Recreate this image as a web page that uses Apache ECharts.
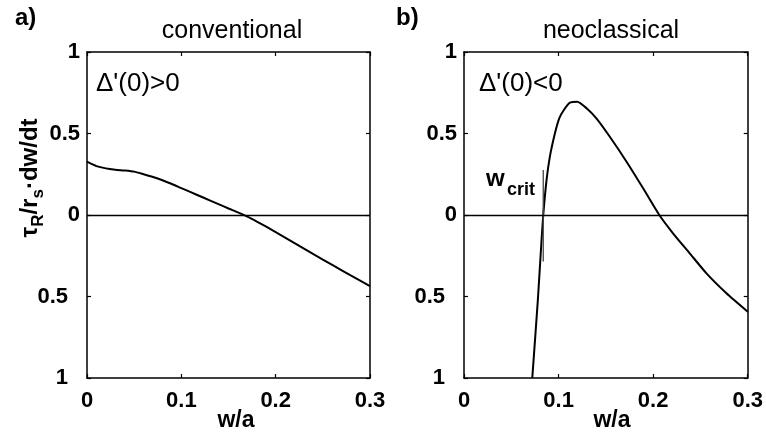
<!DOCTYPE html>
<html>
<head>
<meta charset="utf-8">
<script src="https://cdn.jsdelivr.net/npm/echarts@6/dist/echarts.min.js"></script>
<style>
  html, body { margin: 0; padding: 0; background: #fff; }
  #grafica { width: 766px; height: 434px; }
</style>
</head>
<body>
<div id="grafica"></div>
<script>
// ejes (w/a y tasa normalizada)
const xTicks = [0, 0.1, 0.2, 0.3];
const yTicks = [-1, -0.5, 0, 0.5, 1];

// panel a) conventional
const convW = [0, 0.01, 0.02, 0.03, 0.04, 0.05, 0.06, 0.07, 0.08, 0.09, 0.1, 0.11, 0.12, 0.13, 0.14, 0.15, 0.16, 0.17, 0.18, 0.19, 0.2, 0.22, 0.24, 0.26, 0.28, 0.3];
const convRate = [0.327, 0.3, 0.286, 0.278, 0.273, 0.266, 0.25, 0.233, 0.213, 0.19, 0.165, 0.14, 0.115, 0.09, 0.065, 0.04, 0.016, -0.01, -0.04, -0.072, -0.105, -0.172, -0.24, -0.306, -0.372, -0.437];

// panel b) neoclassical
const neoW = [0.0722, 0.0781, 0.082, 0.0838, 0.0873, 0.0908, 0.0961, 0.1007, 0.1056, 0.112, 0.1197, 0.1296, 0.14, 0.1542, 0.1719, 0.1894, 0.2065, 0.221, 0.2387, 0.2564, 0.2775, 0.3];
const neoRate = [-1, -0.52, -0.153, 0, 0.215, 0.358, 0.5, 0.593, 0.644, 0.689, 0.695, 0.655, 0.593, 0.48, 0.327, 0.164, 0, -0.112, -0.235, -0.358, -0.48, -0.593];

// marca de w_crit
const wCrit = 0.0838;
const wCritSpan = [0.276, -0.286];

const fuente = 'Liberation Sans, Arial, Helvetica, sans-serif';

function pares(xs, ys) {
    return xs.map((x, i) => [x, ys[i]]);
}

function ejeX(grid, abajo) {
    return {
        type: 'value',
        gridIndex: grid,
        position: abajo ? 'bottom' : 'top',
        min: xTicks[0],
        max: xTicks[xTicks.length - 1],
        interval: xTicks[1] - xTicks[0],
        axisLine: { show: true, onZero: false, lineStyle: { color: '#000', width: 1.5 } },
        axisTick: { show: true, inside: true, length: 4, lineStyle: { color: '#000', width: 1.2 } },
        axisLabel: {
            show: abajo,
            margin: 12,
            color: '#000',
            fontFamily: fuente,
            fontSize: 22,
            fontWeight: 'bold',
            formatter: v => String(+v.toFixed(2))
        },
        splitLine: { show: false }
    };
}

function ejeY(grid, izq) {
    return {
        type: 'value',
        gridIndex: grid,
        position: izq ? 'left' : 'right',
        min: yTicks[0],
        max: yTicks[yTicks.length - 1],
        interval: yTicks[1] - yTicks[0],
        axisLine: { show: true, onZero: false, lineStyle: { color: '#000', width: 1.5 } },
        axisTick: { show: true, inside: true, length: 4, lineStyle: { color: '#000', width: 1.2 } },
        axisLabel: {
            show: izq,
            margin: 7,
            color: '#000',
            fontFamily: fuente,
            fontSize: 22,
            fontWeight: 'bold',
            // el signo menos no aparece en la figura original
            formatter: v => v < 0 ? '{n|' + Math.abs(+v.toFixed(2)) + '}' : String(+v.toFixed(2)),
            rich: {
                n: { padding: [0, 12, 0, 0], fontFamily: fuente, fontSize: 22, fontWeight: 'bold', color: '#000' }
            }
        },
        splitLine: { show: false }
    };
}

let lineaCero = {
    silent: true,
    symbol: 'none',
    label: { show: false },
    lineStyle: { color: '#000', type: 'solid', width: 1.3 },
    data: [{ yAxis: 0 }]
};

let texto = (x, y, t, size, peso, align, extra) => Object.assign({
    type: 'text',
    x: x,
    y: y,
    style: {
        text: t,
        fill: '#000',
        font: (peso || 'normal') + ' ' + size + 'px ' + fuente,
        align: align || 'left',
        verticalAlign: 'middle'
    }
}, extra || {});

let grafica = echarts.init(document.querySelector('#grafica'), null, { renderer: 'canvas' });

let option = {
    backgroundColor: '#fff',
    animation: false,
    grid: [
        { left: 87, top: 52, width: 283, height: 326 },
        { left: 464, top: 52, width: 284, height: 326 }
    ],
    xAxis: [ejeX(0, true), ejeX(0, false), ejeX(1, true), ejeX(1, false)],
    yAxis: [ejeY(0, true), ejeY(0, false), ejeY(1, true), ejeY(1, false)],
    series: [
        {
            type: 'line',
            xAxisIndex: 0,
            yAxisIndex: 0,
            data: pares(convW, convRate),
            showSymbol: false,
            smooth: 0.2,
            lineStyle: { color: '#000', width: 2 },
            markLine: lineaCero
        },
        {
            type: 'line',
            xAxisIndex: 2,
            yAxisIndex: 2,
            data: pares(neoW, neoRate),
            showSymbol: false,
            smooth: 0.2,
            lineStyle: { color: '#000', width: 2, join: 'round' },
            markLine: lineaCero
        },
        {
            type: 'line',
            xAxisIndex: 2,
            yAxisIndex: 2,
            data: wCritSpan.map(v => [wCrit, v]),
            showSymbol: false,
            lineStyle: { color: '#444', width: 1.3 }
        }
    ],
    graphic: [
        texto(15, 18, 'a)', 24, 'bold'),
        texto(396, 18, 'b)', 24, 'bold'),
        texto(232, 31, 'conventional', 25, 'normal', 'center'),
        texto(611, 31, 'neoclassical', 25, 'normal', 'center'),
        texto(96, 84, "\u0394'(0)>0", 26, 'normal'),
        texto(479, 84, "\u0394'(0)<0", 26, 'normal'),
        texto(236, 421, 'w/a', 23, 'bold', 'center'),
        texto(612, 421, 'w/a', 23, 'bold', 'center'),
        texto(486, 179, 'w', 24, 'bold'),
        texto(507, 190, 'crit', 18, 'bold'),
        {
            type: 'text',
            x: 30,
            y: 178,
            rotation: Math.PI / 2,
            style: {
                text: '{m|\u03c4}{s|R}{m|/r}{s|s}{m|\u00b7dw/dt}',
                align: 'center',
                verticalAlign: 'middle',
                rich: {
                    m: { font: 'bold 24px ' + fuente, fill: '#000', lineHeight: 34, verticalAlign: 'middle' },
                    s: { font: 'bold 17px ' + fuente, fill: '#000', lineHeight: 17, verticalAlign: 'bottom' }
                }
            }
        }
    ]
};

grafica.setOption(option);
</script>
</body>
</html>
